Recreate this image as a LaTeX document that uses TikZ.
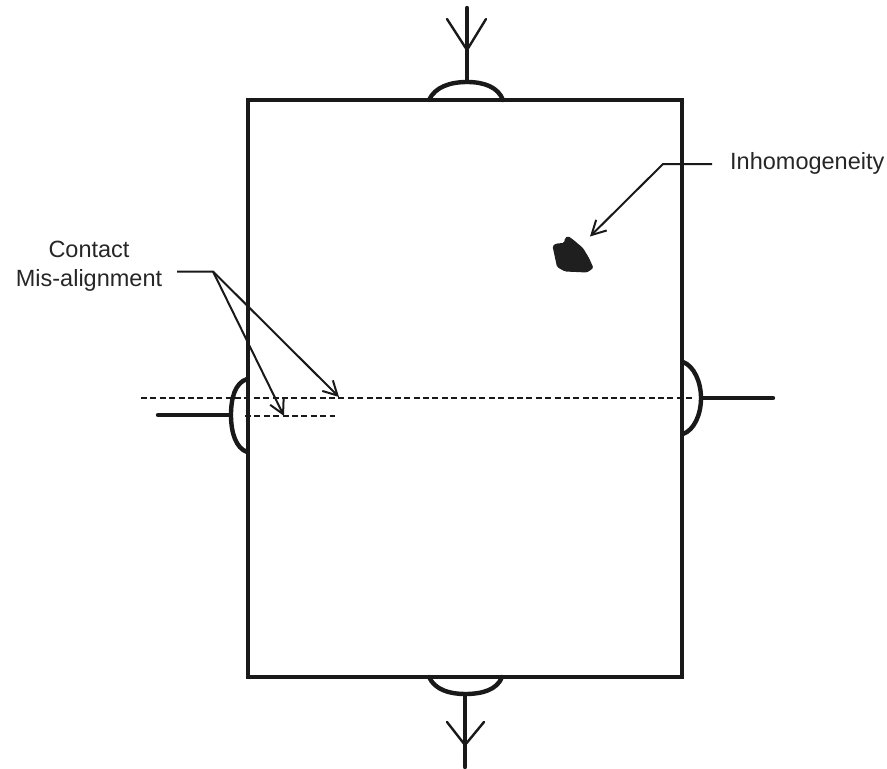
\documentclass[tikz,border=0pt]{standalone}
\usepackage{fontspec}
\setmainfont{Liberation Sans}
\usetikzlibrary{arrows.meta}
\tikzset{
  heavy/.style={line width=4.6pt,black!90},
  contactline/.style={line width=4.4pt,black!90,line cap=round},
  fork/.style={line width=2.4pt,black!90,line cap=round},
  leader/.style={line width=2pt,black!90},
  pointer/.style={leader,-{Straight Barb[length=14pt,width=15pt,line width=2pt]}},
  guide/.style={line width=1.9pt,black!90,dash pattern=on 6pt off 3.4pt},
  lbl/.style={font=\fontsize{23.5}{29}\selectfont,text=black!85,align=center,inner sep=0pt}
}
\begin{document}
\begin{tikzpicture}[x=1pt,y=-1pt]
\useasboundingbox (0,0) rectangle (887,769);
% dashed reference lines
\coordinate (dl1) at (141,398);
\coordinate (dr1) at (695,398);
\coordinate (dl2) at (245,416);
\coordinate (dr2) at (335,416);
\draw[guide] (dl1) -- (dr1);
\draw[guide] (dl2) -- (dr2);
% sample
\node[heavy,draw,minimum width=434pt,minimum height=577pt,inner sep=0pt,anchor=north west] (sample) at (245.7,97.7) {};
% contacts
\coordinate (tA) at (429,100); \coordinate (tB) at (503,100); \coordinate (tC) at (467,82);
\coordinate (tE) at (467,8); \coordinate (tJ) at (467,50); \coordinate (tL) at (447,19); \coordinate (tR) at (486,19);
\draw[contactline] (tA) .. controls (435,87) and (450,82) .. (tC) .. controls (484,82) and (498,87) .. (tB);
\draw[contactline] (tC) -- (tE);
\draw[fork] (tL) -- (tJ) -- (tR);
\coordinate (bA) at (429,677); \coordinate (bB) at (502,677); \coordinate (bC) at (465,694);
\coordinate (bE) at (465,767); \coordinate (bJ) at (465,745); \coordinate (bL) at (447,722); \coordinate (bR) at (484,722);
\draw[contactline] (bA) .. controls (435,690) and (450,694) .. (bC) .. controls (482,694) and (497,690) .. (bB);
\draw[contactline] (bC) -- (bE);
\draw[fork] (bL) -- (bJ) -- (bR);
\coordinate (lA) at (247,379); \coordinate (lB) at (247,452); \coordinate (lC) at (231,415); \coordinate (lE) at (158,415);
\draw[contactline] (lA) .. controls (235,383) and (231,398) .. (lC) .. controls (231,433) and (236,448) .. (lB);
\draw[contactline] (lC) -- (lE);
\coordinate (rA) at (683,362); \coordinate (rB) at (683,434); \coordinate (rC) at (701,398); \coordinate (rE) at (773,398);
\draw[contactline] (rA) .. controls (694,366) and (701,382) .. (rC) .. controls (701,415) and (694,430) .. (rB);
\draw[contactline] (rC) -- (rE);
% inhomogeneity
\fill[black!88,rounded corners=1.5pt] (552.5,246) -- (556,243.5) -- (564,243) -- (565,238) -- (568,236) -- (573,239.5) -- (583,248) -- (589,258) -- (593.5,268) -- (587,272.5) -- (565,271.5) -- (557,267) -- cycle;
% labels
\node[lbl,anchor=base west] (inh) at (730,169) {Inhomogeneity};
\node[lbl,anchor=base] (contact) at (89,286) {Contact\\Mis-alignment};
% leaders
\coordinate (iS) at (712,164); \coordinate (iK) at (663,164); \coordinate (iT) at (590,236.5);
\draw[pointer] (iS) -- (iK) -- (iT);
\coordinate (cS) at (177,271.5); \coordinate (cK) at (213,271.5);
\coordinate (cT1) at (339,397); \coordinate (cT2) at (284,416);
\draw[pointer] (cS) -- (cK) -- (cT1);
\draw[pointer] (cK) -- (cT2);
\coordinate (gU) at (283.5,398); \coordinate (gL) at (283.5,416);
\draw[line width=1.4pt,black!90] (gU) -- (gL);
\end{tikzpicture}
\end{document}
